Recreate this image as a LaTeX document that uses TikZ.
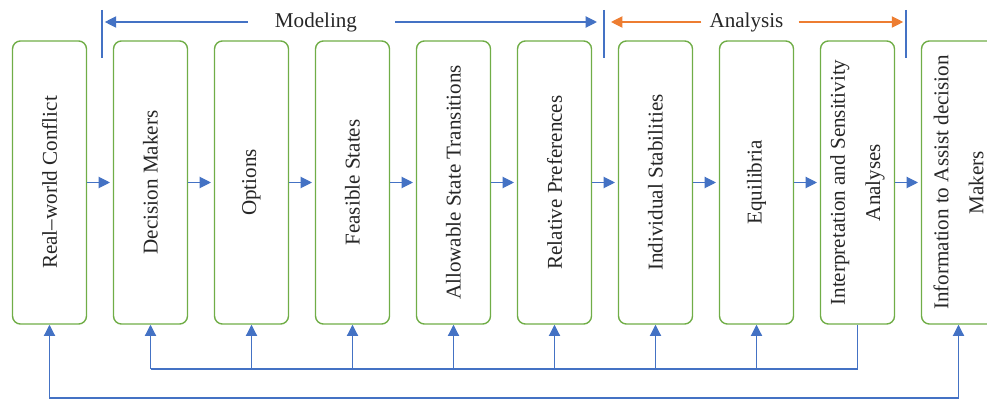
\documentclass[tikz,border=0pt]{standalone}
\usepackage{fontspec}
\setmainfont{Liberation Serif}
\usetikzlibrary{arrows.meta}
\definecolor{stageblue}{HTML}{4472C4}
\definecolor{stagegreen}{HTML}{70AD47}
\definecolor{stageorange}{HTML}{ED7D31}
\tikzset{
  >={Triangle[length=8pt,width=8pt]},
  stagebox/.style={draw=stagegreen, line width=1pt, rounded corners=0.2cm, rotate=90,
    minimum width=7.075cm, minimum height=1.85cm, text width=6.6cm, align=flush center,
    inner sep=0pt, text=black!85, font=\fontsize{15}{25}\selectfont},
  phase/.style={inner sep=0pt, text=black!85, font=\fontsize{15}{18}\selectfont},
  flow/.style={draw=stageblue, line width=0.8pt},
  barline/.style={draw=stageblue, line width=0.8pt},
}

\begin{document}
\begin{tikzpicture}[x=0.025cm, y=-0.025cm]
\useasboundingbox (0,0) rectangle (987,400);
\foreach \i/\txt in {1/Real--world Conflict, 2/Decision Makers, 3/Options, 4/Feasible States,
  5/Allowable State Transitions, 6/Relative Preferences, 7/Individual Stabilities,
  8/Equilibria, 9/Interpretation and Sensitivity Analyses, 10/Information to Assist decision Makers}
  \node[stagebox] (b\i) at ({49.5+101*(\i-1)},182.5) {\txt};
\foreach \i [count=\j from 2] in {1,...,9}
  \draw[flow, ->, shorten >=2pt] (b\i.south) -- (b\j.north);
\coordinate (fb) at (0,369);
\coordinate (lb) at (0,398);
\draw[flow] (b9.west) -- (b9.west |- fb) -- (b2.west |- fb);
\foreach \i in {2,...,8}
  \draw[flow, ->] (b\i.west |- fb) -- (b\i.west);
\draw[flow, <->] (b1.west) -- (b1.west |- lb) -- (b10.west |- lb) -- (b10.west);
\foreach \name/\x in {barA/102, barB/604, barC/906}
  \draw[barline] (\x,10) coordinate (\name) -- (\x,58);
\node[phase] (modeling) at (316,22) {Modeling};
\node[phase] (analysis) at (746.5,22) {Analysis};
\draw[flow, ->, shorten >=2pt] ([xshift=-0.675cm]modeling.west) -- (barA |- modeling.west);
\draw[flow, ->, shorten >=5pt] ([xshift=0.95cm]modeling.east) -- (barB |- modeling.east);
\draw[flow, draw=stageorange, ->, shorten >=5pt] ([xshift=-0.2cm]analysis.west) -- (barB |- analysis.west);
\draw[flow, draw=stageorange, ->, shorten >=2pt] ([xshift=0.375cm]analysis.east) -- (barC |- analysis.east);
\end{tikzpicture}
\end{document}
